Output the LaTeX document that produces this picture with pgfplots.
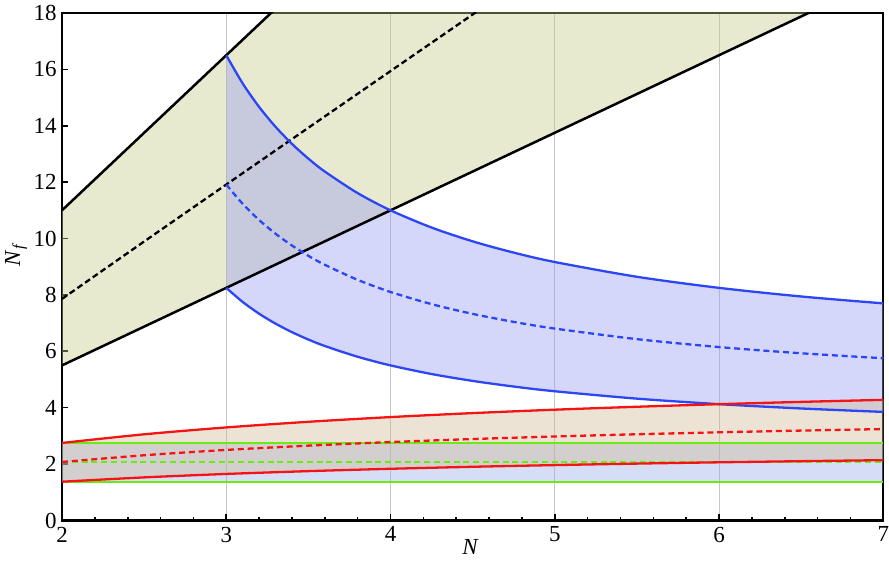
\documentclass[border=0pt]{standalone}
\usepackage{fontspec}
\setmainfont{Liberation Serif}
\usepackage{pgfplots}
\pgfplotsset{compat=1.18}
\definecolor{bandF}{RGB}{197,202,137}
\definecolor{bandA}{RGB}{150,155,242}
\definecolor{bandS}{RGB}{207,185,150}
\definecolor{bandG}{RGB}{152,172,232}
\definecolor{lnA}{RGB}{45,70,245}
\definecolor{lnS}{RGB}{245,20,20}
\definecolor{lnG}{RGB}{105,235,20}
\begin{document}
\fontsize{11.5}{13}\selectfont
\begin{tikzpicture}
\begin{axis}[
scale only axis,
width=411pt, height=254pt,
xmin=2, xmax=7, ymin=0, ymax=18,
xtick={2,3,4,5,6,7},
ytick={0,2,4,6,8,10,12,14,16,18},
minor x tick num=4,
xtick pos=left, ytick pos=left,
tick align=inside,
major tick length=3pt, minor tick length=1.6pt,
tick style={black, line width=0.8pt},
axis line style={line width=1.1pt},
xmajorgrids=true,
major grid style={gray!45, line width=0.4pt},
/pgf/number format/assume math mode=true,
ticklabel style={font=\fontsize{11.5}{13}\selectfont},
xticklabel style={inner xsep=0pt, inner ysep=3pt},
yticklabel style={inner xsep=2.5pt, inner ysep=2.6pt},
label style={font=\fontsize{11.5}{13}\selectfont},
xlabel={\textit{N}},
ylabel={\textit{N}\textsubscript{\textit{f}}},
xlabel style={at={(axis description cs:0.4976,-0.053)}, anchor=center, inner ysep=12.5pt},
ylabel style={at={(axis description cs:-0.056,0.524)}, anchor=center, inner sep=2.5pt},
]
% filled bands
\addplot[draw=none, fill=bandF, fill opacity=0.4] coordinates {(2,11)(7,38.5)(7,19.25)(2,5.5)} -- cycle;
\addplot[draw=none, fill=bandA, fill opacity=0.4] coordinates {
(3,16.5)(3.1,15.5)(3.2,14.667)(3.3,13.962)(3.4,13.357)(3.5,12.833)(3.6,12.375)(3.8,11.611)(4,11)(4.25,10.389)(4.5,9.9)(4.75,9.5)(5,9.167)(5.5,8.643)(6,8.25)(6.5,7.944)(7,7.7)
(7,3.85)(6.5,3.972)(6,4.125)(5.5,4.321)(5,4.583)(4.75,4.75)(4.5,4.95)(4.25,5.194)(4,5.5)(3.8,5.806)(3.6,6.188)(3.5,6.417)(3.4,6.679)(3.3,6.981)(3.2,7.333)(3.1,7.75)(3,8.25)} -- cycle;
\addplot[draw=none, fill=bandG, fill opacity=0.4] coordinates {(2,2.75)(7,2.75)(7,1.375)(2,1.375)} -- cycle;
\addplot[draw=none, fill=bandS, fill opacity=0.4] coordinates {
(2,2.75)(2.5,3.056)(3,3.3)(3.5,3.5)(4,3.667)(4.5,3.808)(5,3.929)(5.5,4.033)(6,4.125)(6.5,4.206)(7,4.278)
(7,2.139)(6.5,2.103)(6,2.063)(5.5,2.017)(5,1.964)(4.5,1.904)(4,1.833)(3.5,1.75)(3,1.65)(2.5,1.528)(2,1.375)} -- cycle;
% fundamental
\addplot[black, line width=1.25pt] coordinates {(2,11)(7,38.5)};
\addplot[black, line width=1.25pt] coordinates {(2,5.5)(7,19.25)};
\addplot[black, line width=1.15pt, dash pattern=on 3pt off 1.7pt, smooth] coordinates {(2,7.859)(2.5,9.894)(3,11.914)(3.5,13.928)(4,15.938)(4.5,17.945)(5,19.951)};
% two-index antisymmetric
\addplot[lnA, line width=1.15pt, smooth] coordinates {(3,16.5)(3.1,15.5)(3.2,14.667)(3.3,13.962)(3.4,13.357)(3.5,12.833)(3.6,12.375)(3.8,11.611)(4,11)(4.25,10.389)(4.5,9.9)(4.75,9.5)(5,9.167)(5.5,8.643)(6,8.25)(6.5,7.944)(7,7.7)};
\addplot[lnA, line width=1.15pt, smooth] coordinates {(3,8.25)(3.1,7.75)(3.2,7.333)(3.3,6.981)(3.4,6.679)(3.5,6.417)(3.6,6.188)(3.8,5.806)(4,5.5)(4.25,5.194)(4.5,4.95)(4.75,4.75)(5,4.583)(5.5,4.321)(6,4.125)(6.5,3.972)(7,3.85)};
\addplot[lnA, line width=1.15pt, dash pattern=on 3pt off 1.9pt, smooth] coordinates {(3,11.914)(3.1,11.23)(3.2,10.657)(3.3,10.17)(3.4,9.751)(3.5,9.387)(3.6,9.068)(3.8,8.534)(4,8.104)(4.25,7.673)(4.5,7.327)(4.75,7.043)(5,6.806)(5.5,6.432)(6,6.15)(6.5,5.93)(7,5.754)};
% adjoint
\addplot[lnG, line width=1.15pt] coordinates {(2,2.75)(7,2.75)};
\addplot[lnG, line width=1.15pt] coordinates {(2,1.375)(7,1.375)};
\addplot[lnG, line width=1.15pt, dash pattern=on 3pt off 1.9pt] coordinates {(2,2.075)(7,2.075)};
% two-index symmetric
\addplot[lnS, line width=1.15pt, smooth] coordinates {(2,2.75)(2.5,3.056)(3,3.3)(3.5,3.5)(4,3.667)(4.5,3.808)(5,3.929)(5.5,4.033)(6,4.125)(6.5,4.206)(7,4.278)};
\addplot[lnS, line width=1.15pt, smooth] coordinates {(2,1.375)(2.5,1.528)(3,1.65)(3.5,1.75)(4,1.833)(4.5,1.904)(5,1.964)(5.5,2.017)(6,2.063)(6.5,2.103)(7,2.139)};
\addplot[lnS, line width=1.15pt, dash pattern=on 3pt off 1.9pt, smooth] coordinates {(2,2.075)(2.5,2.313)(3,2.502)(3.5,2.654)(4,2.781)(4.5,2.888)(5,2.979)(5.5,3.058)(6,3.127)(6.5,3.188)(7,3.242)};
\end{axis}
\end{tikzpicture}
\end{document}
